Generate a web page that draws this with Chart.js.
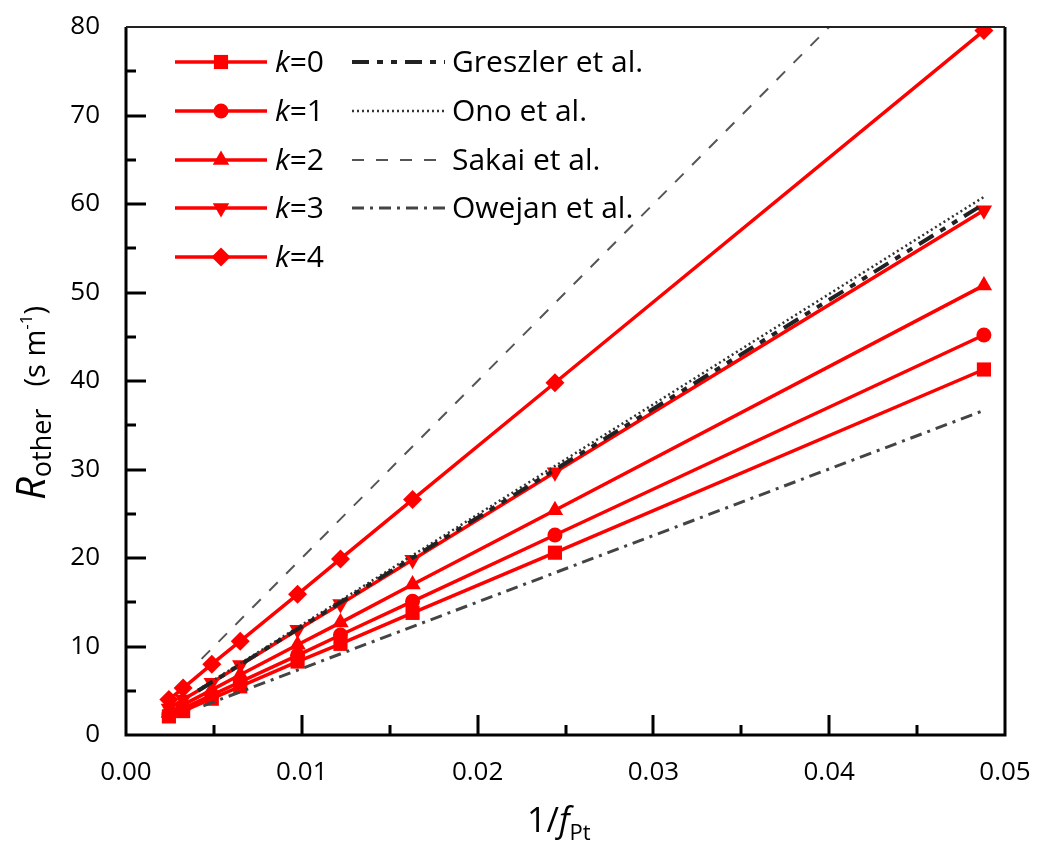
<!DOCTYPE html>
<html>
<head>
<meta charset="utf-8">
<script src="https://cdn.jsdelivr.net/npm/chart.js@4"></script>
<style>
  html, body { margin: 0; padding: 0; background: #fff; }
</style>
</head>
<body>
<canvas id="chart" width="1037" height="841"></canvas>
<script>
// 1/fPt values (x) and R_other for each k
const invF = [0.00244, 0.00325, 0.00488, 0.0065, 0.00976, 0.0122, 0.0163, 0.0244, 0.0488]
const k0 = [2.1, 2.7, 4.1, 5.5, 8.3, 10.3, 13.8, 20.6, 41.3]
const k1 = [2.3, 3.0, 4.5, 6.0, 9.0, 11.3, 15.1, 22.6, 45.2]
const k2 = [2.5, 3.4, 5.1, 6.8, 10.2, 12.7, 17.0, 25.4, 50.8]
const k3 = [3.0, 4.0, 5.9, 7.9, 11.9, 14.8, 19.8, 29.7, 59.3]
const k4 = [4.0, 5.3, 8.0, 10.6, 15.9, 19.9, 26.6, 39.8, 79.6]

// literature lines (start / end)
const greszlerX = [0.0041, 0.0488]
const greszlerY = [5.0, 60.0]
const onoX = [0.0041, 0.0488]
const onoY = [5.1, 60.8]
const sakaiX = [0.0043, 0.0400]
const sakaiY = [8.6, 80.0]
const owejanX = [0.0044, 0.0487]
const owejanY = [3.3, 36.6]

const xTicks = [0, 0.01, 0.02, 0.03, 0.04, 0.05]
const yTicks = [0, 10, 20, 30, 40, 50, 60, 70, 80]

const FONT = "'Open Sans', 'Noto Sans', sans-serif"
const RED = '#ff0000'

function pts(xs, ys) {
    return xs.map((x, i) => ({ x: x, y: ys[i] }))
}

const kSeries = [
    { label: '0', data: k0, style: 'rect', radius: 10, rot: 0 },
    { label: '1', data: k1, style: 'circle', radius: 7.5, rot: 0 },
    { label: '2', data: k2, style: 'triangle', radius: 9.5, rot: 0 },
    { label: '3', data: k3, style: 'triangle', radius: 9.5, rot: 180 },
    { label: '4', data: k4, style: 'rectRot', radius: 9.5, rot: 0 },
]

const refSeries = [
    { label: 'Greszler et al.', xs: greszlerX, ys: greszlerY, color: '#222', width: 4, dash: [17, 8, 6, 8, 6, 8] },
    { label: 'Ono et al.', xs: onoX, ys: onoY, color: '#333', width: 2.5, dash: [2, 3] },
    { label: 'Sakai et al.', xs: sakaiX, ys: sakaiY, color: '#555', width: 2, dash: [12, 12] },
    { label: 'Owejan et al.', xs: owejanX, ys: owejanY, color: '#444', width: 3, dash: [12, 6, 3, 6] },
]

const datasets = []
refSeries.forEach(s => {
    datasets.push({
        label: s.label,
        data: pts(s.xs, s.ys),
        showLine: true,
        borderColor: s.color,
        borderWidth: s.width,
        borderDash: s.dash,
        pointRadius: 0,
        fill: false,
    })
})
kSeries.forEach(s => {
    datasets.push({
        label: 'k=' + s.label,
        data: pts(invF, s.data),
        showLine: true,
        borderColor: RED,
        backgroundColor: RED,
        borderWidth: 3.5,
        pointStyle: s.style,
        pointRadius: s.radius,
        pointRotation: s.rot,
        pointBorderWidth: 0,
        fill: false,
    })
})

function drawParts(ctx, parts, x, y) {
    let cx = x
    parts.forEach(p => {
        if (p.gap) { cx += p.gap; return }
        ctx.font = p.font
        ctx.fillText(p.text, cx, y + (p.dy || 0))
        cx += ctx.measureText(p.text).width
    })
}

// labels may not push the plot area around
function noScalePadding(scale) {
    scale.paddingTop = 0
    scale.paddingBottom = 0
    scale.paddingLeft = 0
    scale.paddingRight = 0
}

// frame, inside ticks, legend and axis titles
const decor = {
    id: 'decor',
    afterDraw(chart) {
        const ctx = chart.ctx
        const a = chart.chartArea
        const xs = chart.scales.x
        const ys = chart.scales.y
        ctx.save()

        // ticks
        ctx.strokeStyle = '#000'
        ctx.lineWidth = 3
        ctx.beginPath()
        for (let i = 1; i < 10; i++) {
            const px = Math.round(xs.getPixelForValue(i * 0.005))
            const len = i % 2 === 0 ? 20 : 10
            ctx.moveTo(px, a.bottom)
            ctx.lineTo(px, a.bottom - len)
        }
        for (let i = 1; i < 16; i++) {
            const py = Math.round(ys.getPixelForValue(i * 5))
            const len = i % 2 === 0 ? 20 : 10
            ctx.moveTo(a.left, py)
            ctx.lineTo(a.left + len, py)
        }
        ctx.stroke()

        // frame
        ctx.beginPath()
        ctx.moveTo(a.left, a.top)
        ctx.lineTo(a.left, a.bottom)
        ctx.lineTo(a.right, a.bottom)
        ctx.lineTo(a.right, a.top)
        ctx.stroke()
        ctx.lineWidth = 2
        ctx.strokeStyle = '#222'
        ctx.beginPath()
        ctx.moveTo(a.left, a.top)
        ctx.lineTo(a.right, a.top)
        ctx.stroke()

        // legend
        const rows = [62, 111, 160, 208, 257]
        ctx.textBaseline = 'middle'
        ctx.fillStyle = '#000'
        kSeries.forEach((s, i) => {
            const y = rows[i]
            ctx.setLineDash([])
            ctx.strokeStyle = RED
            ctx.lineWidth = 3.5
            ctx.beginPath()
            ctx.moveTo(175, y)
            ctx.lineTo(267, y)
            ctx.stroke()
            ctx.fillStyle = RED
            Chart.helpers.drawPoint(ctx, { pointStyle: s.style, radius: s.radius, rotation: s.rot, borderWidth: 0 }, 221, y)
            ctx.fillStyle = '#000'
            drawParts(ctx, [
                { text: 'k', font: 'italic 30px ' + FONT },
                { text: '=' + s.label, font: '30px ' + FONT },
            ], 275, y + 1)
        })
        refSeries.forEach((s, i) => {
            const y = rows[i]
            ctx.strokeStyle = s.color
            ctx.lineWidth = s.width
            ctx.setLineDash(s.dash)
            ctx.beginPath()
            ctx.moveTo(352, y)
            ctx.lineTo(445, y)
            ctx.stroke()
            ctx.setLineDash([])
            ctx.fillStyle = '#000'
            ctx.font = '30px ' + FONT
            ctx.fillText(s.label, 452, y + 1)
        })

        // axis titles
        ctx.textBaseline = 'alphabetic'
        ctx.fillStyle = '#000'
        drawParts(ctx, [
            { text: '1/', font: '34px ' + FONT },
            { text: 'f', font: 'italic 34px ' + FONT },
            { text: 'Pt', font: '22px ' + FONT, dy: 8 },
        ], 527, 832)

        ctx.translate(45, 500)
        ctx.rotate(-Math.PI / 2)
        drawParts(ctx, [
            { text: 'R', font: 'italic 40px ' + FONT },
            { text: 'other', font: '27px ' + FONT, dy: 6 },
            { gap: 22 },
            { text: '(s m', font: '29px ' + FONT },
            { text: '-1', font: '17px ' + FONT, dy: -13 },
            { text: ')', font: '29px ' + FONT },
        ], 0, 0)

        ctx.restore()
    }
}

const ctx = document.getElementById('chart').getContext('2d')
const myChart = new Chart(ctx, {
    type: 'scatter',
    data: { datasets: datasets },
    options: {
        responsive: false,
        animation: false,
        layout: { padding: { left: 0, right: 32, top: 27, bottom: 0 } },
        plugins: { legend: { display: false }, tooltip: { enabled: false } },
        scales: {
            x: {
                type: 'linear',
                min: 0,
                max: 0.05,
                afterFit(scale) {
                    scale.height = 106
                    noScalePadding(scale)
                },
                afterBuildTicks(scale) { scale.ticks = xTicks.map(v => ({ value: v })) },
                grid: { display: false, drawTicks: false },
                border: { display: false },
                ticks: {
                    padding: 22,
                    color: '#000',
                    font: { family: FONT, size: 26 },
                    maxRotation: 0,
                    callback: v => v.toFixed(2),
                },
            },
            y: {
                type: 'linear',
                min: 0,
                max: 80,
                afterFit(scale) {
                    scale.width = 126
                    noScalePadding(scale)
                },
                afterBuildTicks(scale) { scale.ticks = yTicks.map(v => ({ value: v })) },
                grid: { display: false, drawTicks: false },
                border: { display: false },
                ticks: {
                    padding: 26,
                    color: '#000',
                    font: { family: FONT, size: 26 },
                    callback: v => String(v),
                },
            },
        },
    },
    plugins: [decor],
})
</script>
</body>
</html>
